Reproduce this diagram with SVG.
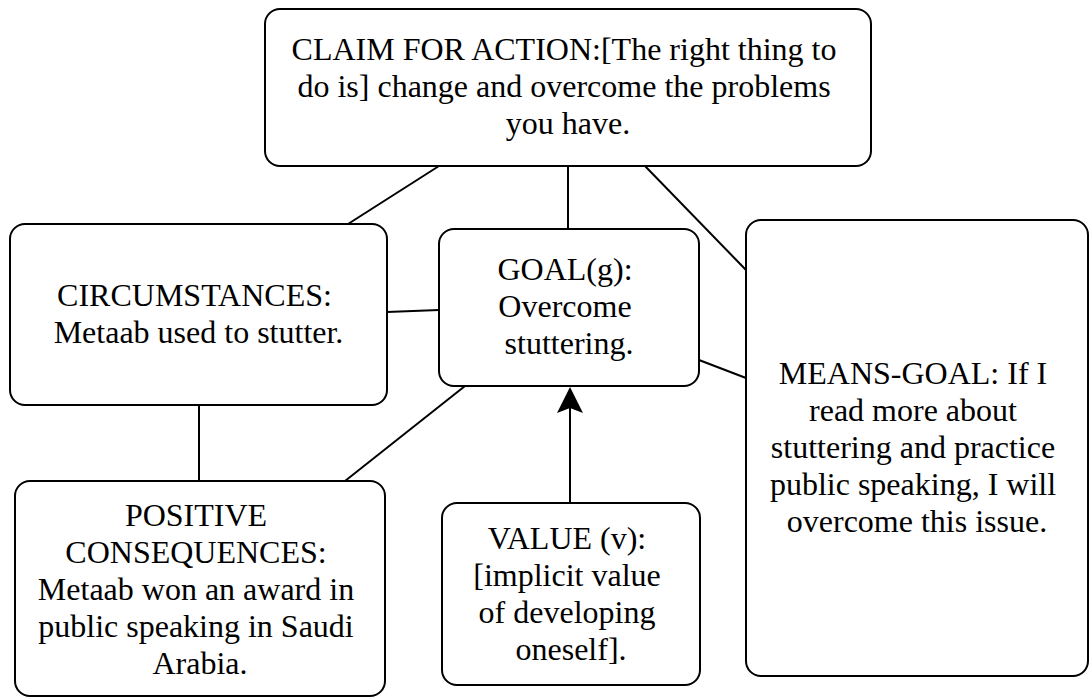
<svg xmlns="http://www.w3.org/2000/svg" width="1090" height="698" viewBox="0 0 1090 698">
  <style>
    .box { fill: #ffffff; stroke: #000000; stroke-width: 2; }
    .edge { fill: none; stroke: #000000; stroke-width: 2; }
    .lbl { font-size: 32px; fill: #000000; text-anchor: middle; }
  </style>
  <rect width="1090" height="698" fill="#ffffff"/>

  <!-- connectors -->
  <g id="connectors">
    <line class="edge" x1="439" y1="166" x2="348" y2="224"/>
    <line class="edge" x1="568" y1="166" x2="568" y2="229"/>
    <line class="edge" x1="645" y1="166" x2="746" y2="270"/>
    <line class="edge" x1="387" y1="312" x2="439" y2="310"/>
    <line class="edge" x1="699" y1="360" x2="746" y2="378"/>
    <line class="edge" x1="199" y1="405" x2="199" y2="481"/>
    <line class="edge" x1="465" y1="386" x2="345" y2="481"/>
    <line class="edge" x1="570" y1="503" x2="570" y2="408"/>
    <path d="M570,387 L583,413 L570,408 L557,413 Z" fill="#000000"/>
  </g>

  <!-- claim for action -->
  <g id="claim">
    <rect class="box" x="265" y="9" width="606" height="157" rx="15" ry="15"/>
    <text class="lbl" font-family="'Liberation Serif', 'Times New Roman', 'DejaVu Serif', serif">
      <tspan x="568" y="60">CLAIM FOR ACTION:[The right thing to</tspan>
      <tspan x="568" y="97">do is] change and overcome the problems</tspan>
      <tspan x="568" y="134">you have.</tspan>
    </text>
  </g>

  <!-- circumstances -->
  <g id="circumstances">
    <rect class="box" x="10" y="224" width="377" height="181" rx="15" ry="15"/>
    <text class="lbl" font-family="'Liberation Serif', 'Times New Roman', 'DejaVu Serif', serif">
      <tspan x="198.5" y="305.5">CIRCUMSTANCES:</tspan>
      <tspan x="198.5" y="342.5">Metaab used to stutter.</tspan>
    </text>
  </g>

  <!-- goal -->
  <g id="goal">
    <rect class="box" x="439" y="229" width="260" height="157" rx="15" ry="15"/>
    <text class="lbl" font-family="'Liberation Serif', 'Times New Roman', 'DejaVu Serif', serif">
      <tspan x="569" y="280">GOAL(g):</tspan>
      <tspan x="569" y="317">Overcome</tspan>
      <tspan x="569" y="354">stuttering.</tspan>
    </text>
  </g>

  <!-- means-goal -->
  <g id="means-goal">
    <rect class="box" x="746" y="220" width="342" height="456" rx="15" ry="15"/>
    <text class="lbl" font-family="'Liberation Serif', 'Times New Roman', 'DejaVu Serif', serif">
      <tspan x="917" y="383.5">MEANS-GOAL: If I</tspan>
      <tspan x="917" y="420.5">read more about</tspan>
      <tspan x="917" y="457.5">stuttering and practice</tspan>
      <tspan x="917" y="494.5">public speaking, I will</tspan>
      <tspan x="917" y="531.5">overcome this issue.</tspan>
    </text>
  </g>

  <!-- positive consequences -->
  <g id="positive-consequences">
    <rect class="box" x="15" y="481" width="370" height="215" rx="15" ry="15"/>
    <text class="lbl" font-family="'Liberation Serif', 'Times New Roman', 'DejaVu Serif', serif">
      <tspan x="200" y="526">POSITIVE</tspan>
      <tspan x="200" y="563">CONSEQUENCES:</tspan>
      <tspan x="200" y="600">Metaab won an award in</tspan>
      <tspan x="200" y="637">public speaking in Saudi</tspan>
      <tspan x="200" y="674">Arabia.</tspan>
    </text>
  </g>

  <!-- value -->
  <g id="value">
    <rect class="box" x="442" y="503" width="258" height="182" rx="15" ry="15"/>
    <text class="lbl" font-family="'Liberation Serif', 'Times New Roman', 'DejaVu Serif', serif">
      <tspan x="571" y="548.5">VALUE (v):</tspan>
      <tspan x="571" y="585.5">[implicit value</tspan>
      <tspan x="571" y="622.5">of developing</tspan>
      <tspan x="571" y="659.5">oneself].</tspan>
    </text>
  </g>
</svg>
